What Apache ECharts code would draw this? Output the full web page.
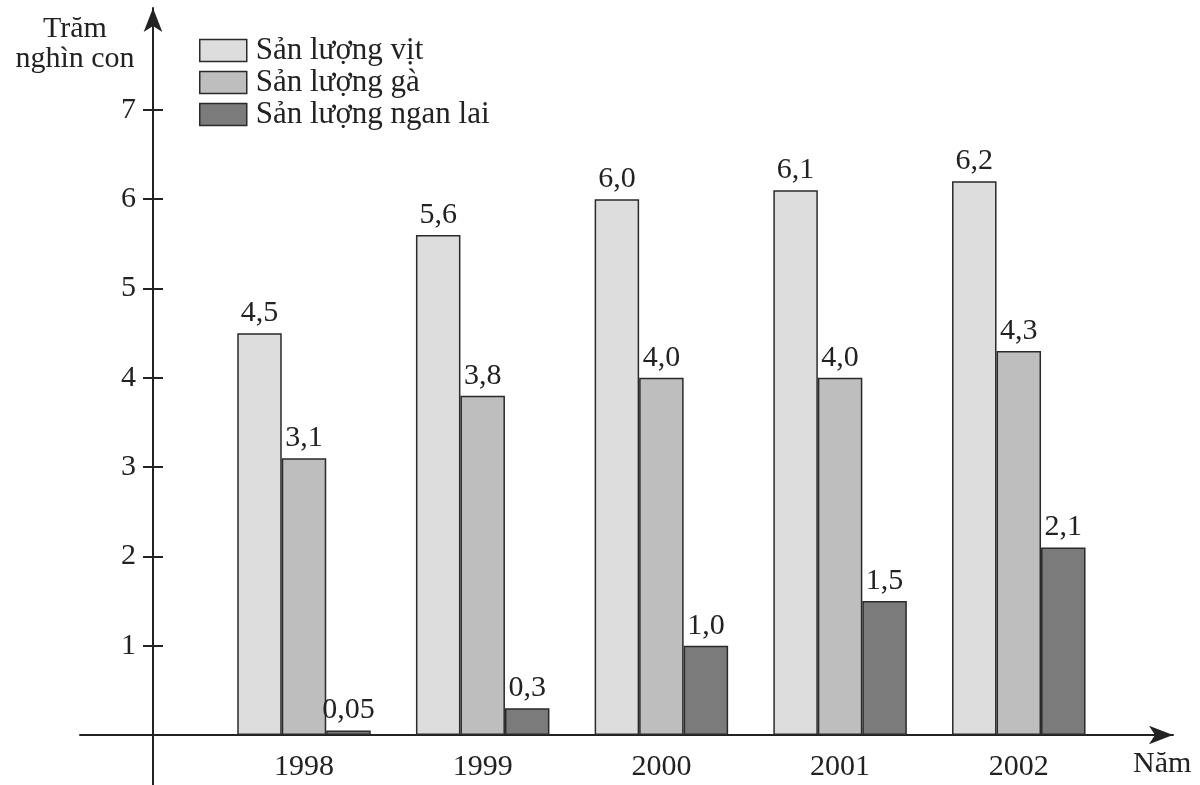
<!DOCTYPE html>
<html>
<head>
<meta charset="utf-8">
<script src="https://cdn.jsdelivr.net/npm/echarts@6/dist/echarts.min.js"></script>
<style>
  html, body { margin: 0; padding: 0; background: #fff; }
  #chart { width: 1200px; height: 785px; }
</style>
</head>
<body>
<div id="chart"></div>
<script>
// Sản lượng gia cầm (trăm nghìn con) theo năm
const years = [1998, 1999, 2000, 2001, 2002];
const duck = [4.5, 5.6, 6.0, 6.1, 6.2];
const chicken = [3.1, 3.8, 4.0, 4.0, 4.3];
const muscovy = [0.05, 0.3, 1.0, 1.5, 2.1];
const yTicks = [1, 2, 3, 4, 5, 6, 7];
const seriesNames = ['Sản lượng vịt', 'Sản lượng gà', 'Sản lượng ngan lai'];

const FONT = '"Liberation Serif", "DejaVu Serif", serif';
const INK = '#222';
const FS = 30;

const pair = arr => years.map((y, i) => [y, arr[i]]);
const fmt = p => {
  const v = p.value[1];
  return (v < 0.1 ? v.toFixed(2) : v.toFixed(1)).replace('.', ',');
};

const barSeries = (name, arr, color) => ({
  name,
  type: 'bar',
  data: pair(arr),
  barWidth: 44.5,
  barGap: '0%',
  itemStyle: { color, borderColor: '#2a2a2a', borderWidth: 1.5 },
  label: {
    show: true, position: 'top', distance: 5,
    fontFamily: FONT, fontSize: FS, color: INK,
    formatter: fmt
  }
});

// vertical axis runs a little below zero so it crosses the horizontal axis
const yMin = -0.56, yMax = 8.141;

const chart = echarts.init(document.getElementById('chart'), null, { renderer: 'canvas' });
chart.setOption({
  animation: false,
  backgroundColor: '#fff',
  textStyle: { fontFamily: FONT, color: INK },
  grid: { left: 80, right: 27, top: 8, bottom: 0, outerBoundsMode: 'none', containLabel: false },
  legend: {
    orient: 'vertical', left: 199, top: 35, padding: 0,
    itemWidth: 47, itemHeight: 22, itemGap: 1,
    icon: 'rect',
    itemStyle: { borderColor: '#2a2a2a', borderWidth: 1.5 },
    textStyle: { fontFamily: FONT, fontSize: 31, color: INK, padding: [0, 0, 0, 4] },
    data: seriesNames
  },
  xAxis: {
    type: 'value',
    min: 1996.7465, max: 2002.863,
    name: 'Năm', nameLocation: 'end', nameGap: -40, nameMoveOverlap: false,
    nameTextStyle: { fontFamily: FONT, fontSize: FS, color: INK, verticalAlign: 'top', lineHeight: 59 },
    axisLine: { onZero: true, lineStyle: { color: INK, width: 2 }, symbol: ['none', 'arrow'], symbolSize: [14, 24] },
    axisTick: { show: false },
    splitLine: { show: false },
    axisLabel: {
      // labels are laid out from the grid's bottom edge, which sits below the zero line
      customValues: years, margin: -33,
      fontFamily: FONT, fontSize: FS, color: INK,
      formatter: v => String(v)
    }
  },
  yAxis: [
    {
      type: 'value', min: yMin, max: yMax, offset: -73,
      name: 'Trăm\nnghìn con', nameLocation: 'end', nameGap: -66, nameMoveOverlap: false,
      nameTextStyle: { fontFamily: FONT, fontSize: FS, color: INK, lineHeight: 30, align: 'center', padding: [0, 156, 0, 0] },
      axisLine: { onZero: false, lineStyle: { color: INK, width: 2 }, symbol: ['none', 'arrow'], symbolSize: [14, 24] },
      axisTick: { show: true, customValues: yTicks, length: 10, lineStyle: { color: INK, width: 2 } },
      splitLine: { show: false },
      axisLabel: { customValues: yTicks, margin: 17, fontFamily: FONT, fontSize: FS, color: INK }
    },
    {
      // inner half of the cross ticks on the vertical axis
      type: 'value', min: yMin, max: yMax, offset: -73, position: 'left',
      axisLine: { show: false, onZero: false },
      axisTick: { show: true, inside: true, customValues: yTicks, length: 10, lineStyle: { color: INK, width: 2 } },
      splitLine: { show: false },
      axisLabel: { show: false }
    }
  ],
  series: [
    barSeries(seriesNames[0], duck, '#dddddd'),
    barSeries(seriesNames[1], chicken, '#bebebe'),
    barSeries(seriesNames[2], muscovy, '#7b7b7b')
  ]
});
</script>
</body>
</html>
